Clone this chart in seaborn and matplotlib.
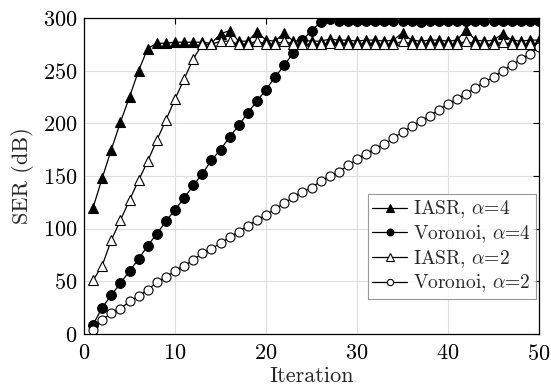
import numpy as np
import pandas as pd
import matplotlib
matplotlib.use("Agg")
import matplotlib.pyplot as plt
import seaborn as sns

iterations = list(range(1, 51))

iasr_a4 = [120, 148, 175, 201, 225, 250, 271, 276, 276, 277,
           277, 277, 277, 276, 285, 288, 278, 278, 287, 279,
           278, 286, 278, 279, 278, 278, 280, 279, 279, 278,
           279, 279, 278, 279, 286, 279, 278, 279, 279, 278,
           279, 289, 279, 278, 279, 285, 279, 278, 279, 279]

voronoi_a4 = [9, 25, 37, 48, 60, 71, 84, 95, 107, 118,
              129, 141, 152, 165, 175, 187, 198, 210, 221, 232,
              244, 255, 267, 279, 288, 296, 299, 297, 297, 297,
              297, 297, 297, 297, 297, 297, 296, 297, 297, 297,
              297, 297, 297, 297, 297, 297, 297, 297, 297, 297]

iasr_a2 = [51, 65, 89, 108, 127, 146, 164, 184, 203, 223,
           242, 261, 275, 275, 278, 278, 275, 275, 278, 275,
           275, 278, 275, 275, 275, 275, 276, 275, 275, 275,
           275, 275, 275, 275, 278, 275, 275, 275, 275, 275,
           275, 278, 275, 275, 275, 277, 275, 275, 275, 275]

voronoi_a2 = [4, 13, 20, 24, 31, 36, 42, 49, 54, 60,
              65, 70, 77, 81, 86, 92, 97, 103, 108, 113,
              119, 124, 130, 135, 139, 145, 150, 154, 160, 166,
              171, 176, 180, 186, 192, 197, 202, 207, 213, 218,
              223, 228, 234, 239, 244, 250, 255, 261, 266, 272]

labels = [r"IASR, $\alpha$=4", r"Voronoi, $\alpha$=4", r"IASR, $\alpha$=2", r"Voronoi, $\alpha$=2"]
series = [iasr_a4, voronoi_a4, iasr_a2, voronoi_a2]
markers = ["^", "o", "^", "o"]
facecolors = ["black", "black", "white", "white"]
msizes = [7.5, 7, 7.5, 6.5]

sns.set_style("white")
plt.rcParams["font.family"] = ["cmr10"]
plt.rcParams["mathtext.fontset"] = "cm"
plt.rcParams["axes.formatter.use_mathtext"] = True

fig = plt.figure(figsize=(5.51, 3.92), dpi=100)
ax = fig.add_axes([84/551, 1-334/392, (539-84)/551, (334-18)/392])

for lab, vals, mk, fc, ms in zip(labels, series, markers, facecolors, msizes):
    df = pd.DataFrame({"Iteration": iterations, "SER": vals})
    sns.lineplot(data=df, x="Iteration", y="SER", ax=ax, color="black",
                 marker=mk, markerfacecolor=fc, markeredgecolor="black",
                 markersize=ms, markeredgewidth=0.8, linewidth=0.9, label=lab)

ax.set_xlim(0, 50)
ax.set_ylim(0, 300)
ax.set_xticks([0, 10, 20, 30, 40, 50])
ax.set_yticks([0, 50, 100, 150, 200, 250, 300])
ax.grid(True, color="#dedede", linewidth=0.8)
ax.set_axisbelow(True)
for s in ax.spines.values():
    s.set_color("black")
    s.set_linewidth(0.9)
ax.tick_params(direction="in", top=True, right=True, length=4, width=0.8,
               labelsize=16, colors="black")
ax.tick_params(axis="x", pad=7)
ax.tick_params(axis="y", pad=5)
ax.set_xlabel("Iteration", fontsize=16, labelpad=2)
ax.set_ylabel("SER (dB)", fontsize=16, labelpad=6)

leg = ax.legend(loc="lower right", bbox_to_anchor=(0.994, 0.11), fontsize=14,
                frameon=True, fancybox=False, edgecolor="#808080",
                handlelength=1.8, handletextpad=0.3, labelspacing=0.15,
                borderpad=0.25, borderaxespad=0.0, markerscale=0.7)
leg.get_frame().set_linewidth(0.8)

fig.savefig("out.png", dpi=100)
